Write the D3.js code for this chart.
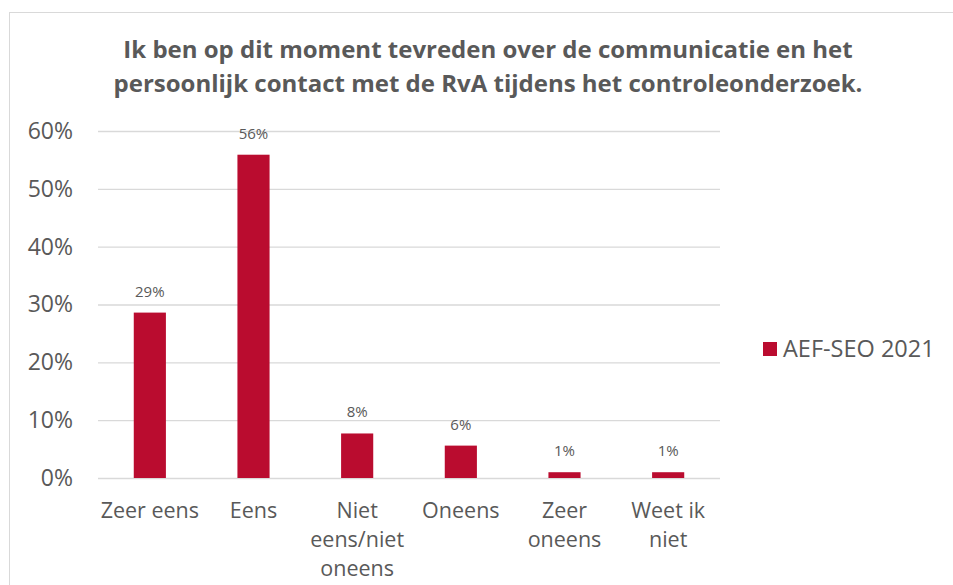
<!DOCTYPE html>
<html>
<head>
<meta charset="utf-8">
<script src="https://cdn.jsdelivr.net/npm/d3@7"></script>
<style>
  body { margin: 0; background: #fff; }
  svg text { font-family: "Open Sans", "Noto Sans", sans-serif; fill: #595959; }
</style>
</head>
<body>
<div id="chart"></div>
<script>
// chart data
const categories = [["Zeer eens"], ["Eens"], ["Niet", "eens/niet", "oneens"], ["Oneens"], ["Zeer", "oneens"], ["Weet ik", "niet"]];
const values = [0.286, 0.559, 0.077, 0.056, 0.01, 0.01];
const valueLabels = ["29%", "56%", "8%", "6%", "1%", "1%"];
const yTicks = [0, 0.1, 0.2, 0.3, 0.4, 0.5, 0.6];
const seriesName = "AEF-SEO 2021";
const titleLines = ["Ik ben op dit moment tevreden over de communicatie en het",
                    "persoonlijk contact met de RvA tijdens het controleonderzoek."];

const width = 953, height = 585;
const barColor = "#ba0c2f";
const gridColor = "#d9d9d9";

const svg = d3.select('#chart')
  .append('svg')
  .attr('width', width)
  .attr('height', height);

// chart frame (left and top edges visible)
svg.append('rect')
  .attr('x', 9.5).attr('y', 12.5)
  .attr('width', width).attr('height', height)
  .attr('fill', 'none')
  .attr('stroke', gridColor);

// title
svg.append('g')
  .selectAll('text')
  .data(titleLines)
  .enter()
  .append('text')
  .attr('x', 488)
  .attr('y', (d, i) => 58 + i * 34)
  .attr('text-anchor', 'middle')
  .style('font-size', '24px')
  .style('font-weight', 'bold')
  .text(d => d);

const x = d3.scaleBand()
  .domain(d3.range(categories.length))
  .range([98, 720])
  .paddingInner(0.69)
  .paddingOuter(0.345);

const y = d3.scaleLinear()
  .domain([0, 0.6])
  .range([478, 131]);

// gridlines + y labels
const yAxis = svg.append('g')
  .attr('transform', 'translate(98,0)')
  .call(d3.axisLeft(y).tickValues(yTicks).tickFormat(d3.format('.0%')).tickSize(-622).tickPadding(25));
yAxis.select('.domain').remove();
yAxis.selectAll('line').attr('stroke', gridColor).attr('stroke-width', 1.3);
yAxis.selectAll('text').style('font-size', '23px').attr('fill', '#595959');

// bars
svg.append('g')
  .selectAll('rect')
  .data(values)
  .enter()
  .append('rect')
  .attr('x', (d, i) => x(i))
  .attr('y', d => y(d))
  .attr('width', x.bandwidth())
  .attr('height', d => y(0) - y(d))
  .attr('fill', barColor);

// data labels
svg.append('g')
  .selectAll('text')
  .data(values)
  .enter()
  .append('text')
  .attr('x', (d, i) => x(i) + x.bandwidth() / 2)
  .attr('y', d => y(d) - 16)
  .attr('text-anchor', 'middle')
  .style('font-size', '15px')
  .text((d, i) => valueLabels[i]);

// category labels
const catG = svg.append('g')
  .selectAll('text')
  .data(categories)
  .enter()
  .append('text')
  .attr('text-anchor', 'middle')
  .style('font-size', '21.5px')
  .attr('transform', (d, i) => 'translate(' + (x(i) + x.bandwidth() / 2) + ',518)');
catG.selectAll('tspan')
  .data(d => d)
  .enter()
  .append('tspan')
  .attr('x', 0)
  .attr('y', (d, i) => i * 29)
  .text(d => d);

// legend
const legend = svg.append('g').attr('transform', 'translate(763,342)');
legend.append('rect')
  .attr('width', 14).attr('height', 14)
  .attr('fill', barColor);
legend.append('text')
  .attr('x', 20).attr('y', 15)
  .style('font-size', '23.5px')
  .text(seriesName);
</script>
</body>
</html>
